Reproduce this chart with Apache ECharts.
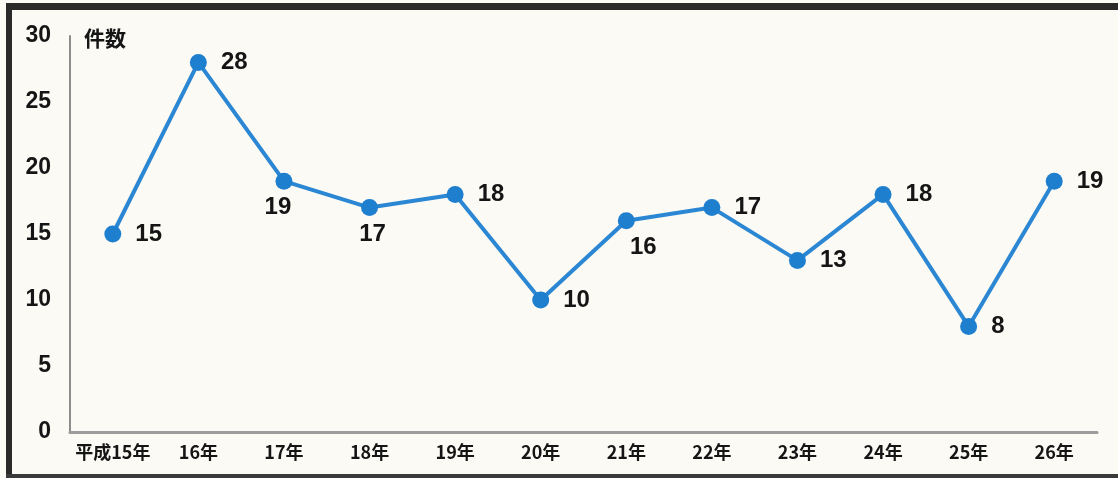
<!DOCTYPE html>
<html>
<head>
<meta charset="utf-8">
<script src="https://cdn.jsdelivr.net/npm/echarts@6/dist/echarts.min.js"></script>
<style>
html,body{margin:0;padding:0;background:#fbfaf4;}
#c{width:1118px;height:478px;}
</style>
</head>
<body>
<div id="c"></div>
<script>
const categories = ['平成15年','16年','17年','18年','19年','20年','21年','22年','23年','24年','25年','26年'];
const counts = [15, 28, 19, 17, 18, 10, 16, 17, 13, 18, 8, 19];
const yTicks = [0, 5, 10, 15, 20, 25, 30];
const yName = '件数';

// label placement tweaks (style, not data)
const labelBelow = {2: [-6, 0], 3: [3, 0], 6: [17, 0]};

const chart = echarts.init(document.getElementById('c'), null, {renderer: 'canvas'});
const seriesData = counts.map((v, i) => {
  if (labelBelow[i]) {
    return {value: v, label: {position: 'bottom', distance: 6, offset: labelBelow[i]}};
  }
  return v;
});

chart.setOption({
  backgroundColor: '#fbfaf4',
  animation: false,
  grid: {left: 70, right: 21, top: 36, bottom: 46, containLabel: false},
  graphic: [
    {type: 'rect', shape: {x: 6, y: 3, width: 1112, height: 7}, style: {fill: '#2a2a2a'}, silent: true},
    {type: 'rect', shape: {x: 6, y: 3, width: 6, height: 475}, style: {fill: '#2a2a2a'}, silent: true},
    {type: 'rect', shape: {x: 6, y: 474, width: 1112, height: 4}, style: {fill: '#3a3a3a'}, silent: true}
  ],
  xAxis: {
    type: 'category',
    data: categories,
    boundaryGap: true,
    axisLine: {show: true, lineStyle: {color: '#9c9c9c', width: 3}},
    axisTick: {show: false},
    axisLabel: {
      interval: 0,
      color: '#151515', fontSize: 18, fontWeight: 'bold',
      fontFamily: '"Noto Sans CJK JP", sans-serif', margin: 11
    },
    splitLine: {show: false}
  },
  yAxis: {
    type: 'value',
    min: yTicks[0], max: yTicks[yTicks.length - 1], interval: yTicks[1] - yTicks[0],
    name: yName,
    nameLocation: 'end',
    nameGap: -2,
    nameTextStyle: {
      color: '#151515', fontSize: 21, fontWeight: 'bold',
      fontFamily: '"Noto Sans CJK JP", sans-serif',
      align: 'left', verticalAlign: 'middle', padding: [0, 0, 0, 14]
    },
    axisLine: {show: true, lineStyle: {color: '#8c8c8c', width: 2}},
    axisTick: {show: false},
    axisLabel: {
      color: '#151515', fontSize: 23, fontWeight: 'bold',
      fontFamily: '"Liberation Sans", Arial, sans-serif', margin: 19
    },
    splitLine: {show: false}
  },
  series: [{
    type: 'line',
    data: seriesData,
    symbol: 'circle',
    symbolSize: 17,
    lineStyle: {color: '#2b87d3', width: 4},
    itemStyle: {color: '#1f7fcf'},
    label: {
      show: true, position: 'right', distance: 14,
      color: '#151515', fontSize: 24, fontWeight: 'bold',
      fontFamily: '"Liberation Sans", Arial, sans-serif'
    },
    z: 3
  }]
});
</script>
</body>
</html>
